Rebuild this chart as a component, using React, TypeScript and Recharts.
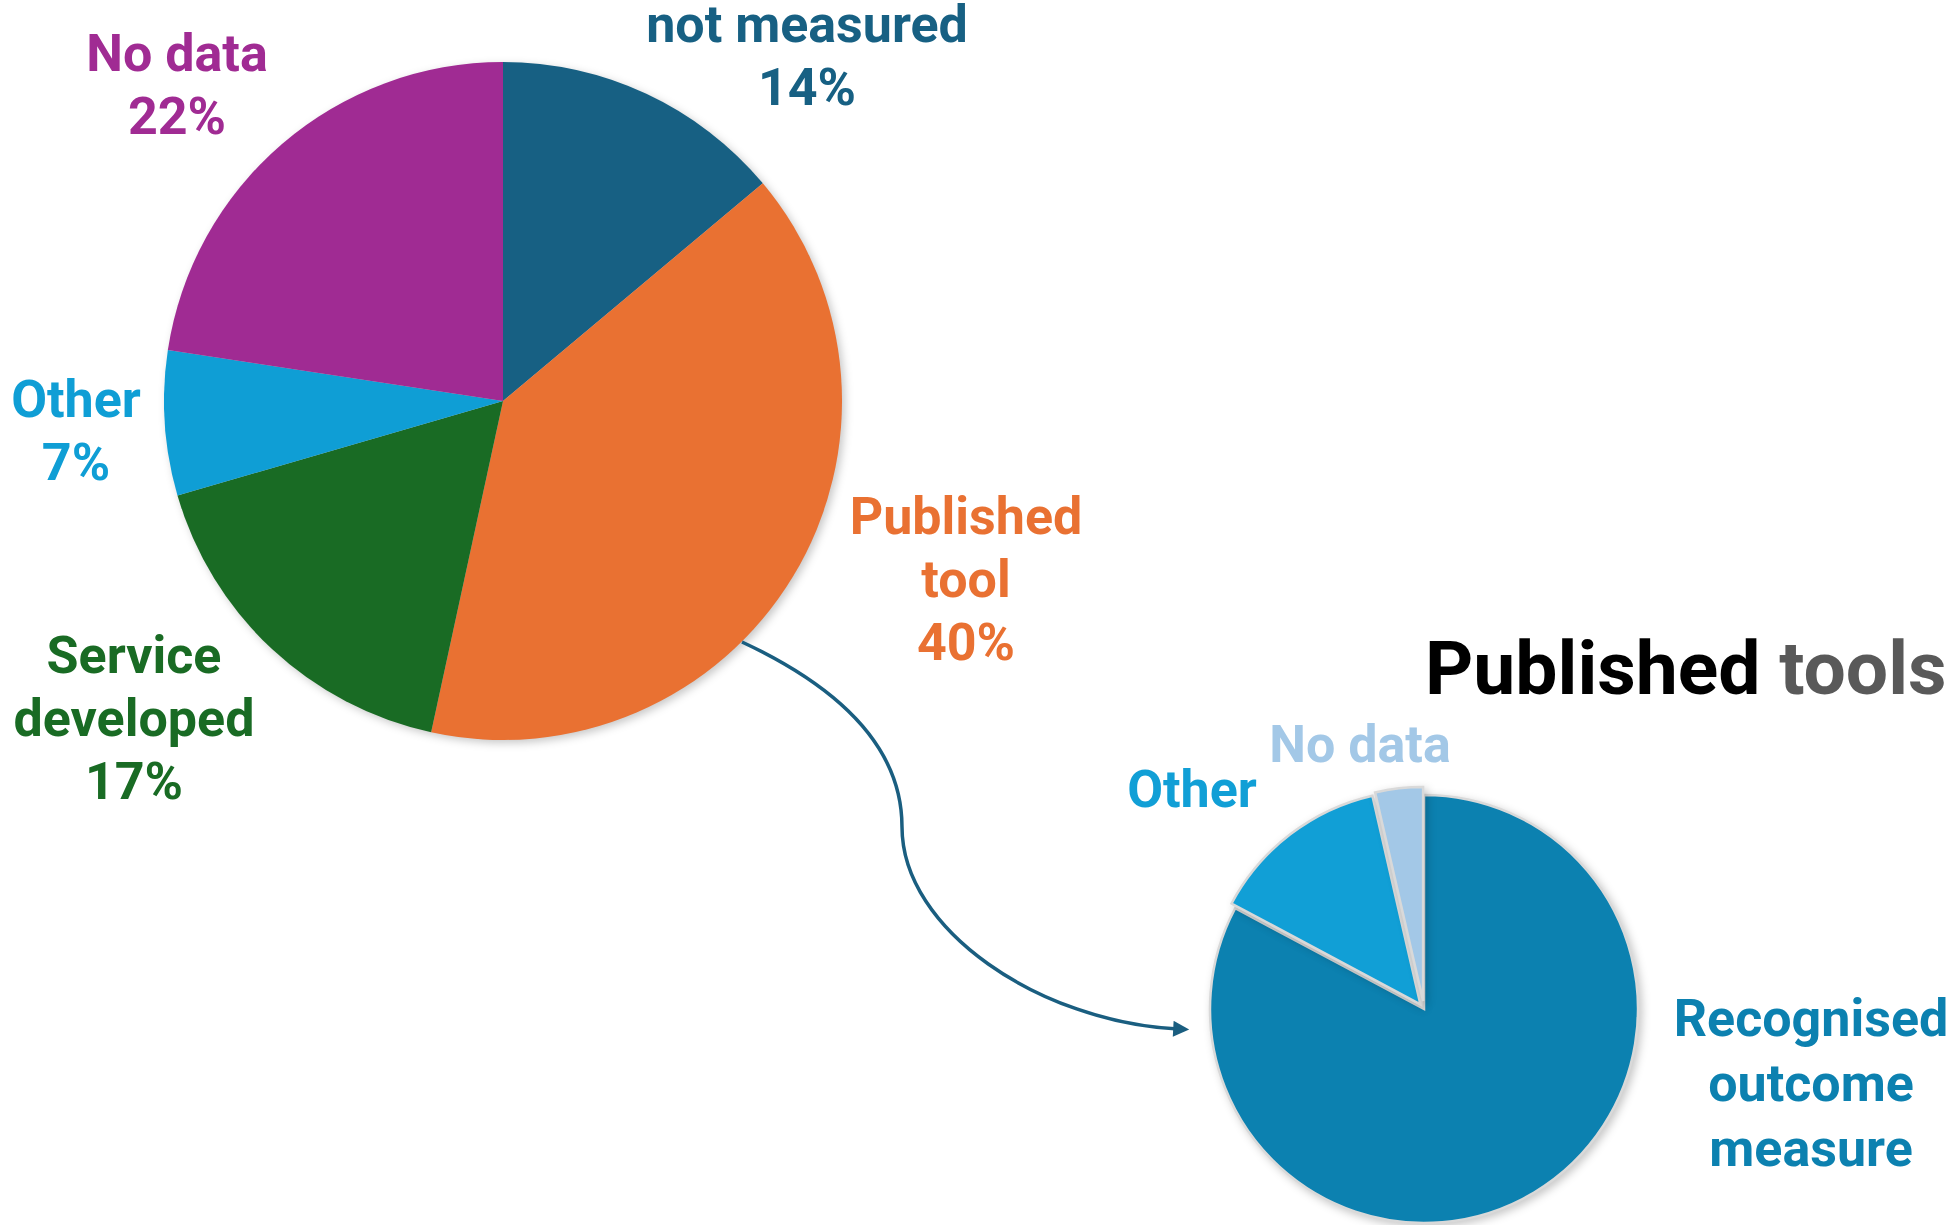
import React from 'react';
import { PieChart, Pie, Cell } from 'recharts';

// ---------- data ----------
const mainCategories = ['not measured', 'Published tool', 'Service developed', 'Other', 'No data'];
const mainValues = [13.9, 39.5, 17.1, 6.9, 22.6];
const mainColors = ['#176083', '#E97132', '#196B24', '#0F9ED5', '#A02B93'];
const mainLabelLines = [['not measured', '14%'], ['Published', 'tool', '40%'], ['Service', 'developed', '17%'], ['Other', '7%'], ['No data', '22%']];

const toolCategories = ['Recognised outcome measure', 'Other', 'No data'];
const toolValues = [82.8, 13.6, 3.6];
const toolColors = ['#0C81B0', '#119FD6', '#A3C8E7'];
const toolLabelLines = [['Recognised', 'outcome', 'measure'], ['Other'], ['No data']];

const titleWords = ['Published', 'tools'];

// ---------- layout ----------
const W = 1959;
const H = 1225;
const FONT = "Roboto, 'Noto Sans', sans-serif";
const LABEL_SIZE = 52;
const LINE_GAP = 63;
const MAIN_CX = 503;
const MAIN_CY = 401;
const MAIN_R = 339;
const TOOL_CX = 1424;
const TOOL_CY = 1009;
const TOOL_R = 214;
const toolExplode = [0, 6, 8];
const mainLabelPos = [
  { x: 807, y: 42 },
  { x: 966, y: 534 },
  { x: 134, y: 673 },
  { x: 76, y: 417 },
  { x: 177, y: 71 },
];
const toolLabelPos = [
  { x: 1811, y: 1036 },
  { x: 1192, y: 807 },
  { x: 1360, y: 762 },
];

const mainData = mainCategories.map((name, i) => ({ name, value: mainValues[i] }));
const toolData = toolCategories.map((name, i) => ({ name, value: toolValues[i] }));
const toolTotal = toolValues.reduce((a, b) => a + b, 0);
const toolOffsets = toolValues.map((v, i) => {
  const before = toolValues.slice(0, i).reduce((a, b) => a + b, 0);
  const a = ((before + v / 2) / toolTotal) * Math.PI * 2;
  return { dx: toolExplode[i] * Math.sin(a), dy: -toolExplode[i] * Math.cos(a) };
});

export default function App() {
  return (
    <div style={{ position: 'absolute', left: 0, top: 0, width: W, height: H, background: '#fff', overflow: 'hidden' }}>
      <style>{`.recharts-pie { filter: drop-shadow(3px 3px 4px rgba(0,0,0,0.22)); }`}</style>
      <PieChart width={W} height={H} margin={{ top: 0, right: 0, bottom: 0, left: 0 }}>
        <Pie
          data={mainData}
          dataKey="value"
          nameKey="name"
          cx={MAIN_CX}
          cy={MAIN_CY}
          outerRadius={MAIN_R}
          startAngle={90}
          endAngle={-270}
          stroke="none"
          isAnimationActive={false}
        >
          {mainData.map((d, i) => (
            <Cell key={d.name} fill={mainColors[i]} />
          ))}
        </Pie>
        {toolCategories.map((cat, k) => (
          <Pie
            key={cat}
            data={toolData}
            dataKey="value"
            nameKey="name"
            cx={TOOL_CX + toolOffsets[k].dx}
            cy={TOOL_CY + toolOffsets[k].dy}
            outerRadius={TOOL_R}
            startAngle={90}
            endAngle={-270}
            isAnimationActive={false}
          >
            {toolData.map((d, i) => (
              <Cell
                key={d.name}
                fill={i === k ? toolColors[i] : 'transparent'}
                stroke={i === k ? '#D9D9D9' : 'none'}
                strokeWidth={2.5}
              />
            ))}
          </Pie>
        ))}
      </PieChart>
      <svg width={W} height={H} style={{ position: 'absolute', left: 0, top: 0, pointerEvents: 'none' }}>
        <defs>
          <marker id="arrowHead" viewBox="0 0 10 10" refX="3" refY="5" markerWidth="17" markerHeight="16" orient="auto" markerUnits="userSpaceOnUse">
            <path d="M0,0 L10,5 L0,10 z" fill="#1A5E80" />
          </marker>
        </defs>
        <path
          d="M742 642 C 845 690, 902 750, 902 827 C 902 930, 1040 1022, 1178 1029"
          fill="none"
          stroke="#1A5E80"
          strokeWidth={3.5}
          markerEnd="url(#arrowHead)"
        />
        {mainLabelLines.map((lines, i) => (
          <text key={mainCategories[i]} x={mainLabelPos[i].x} y={mainLabelPos[i].y} textAnchor="middle" fontFamily={FONT} fontWeight={700} fontSize={LABEL_SIZE} fill={mainColors[i]}>
            {lines.map((l, j) => (
              <tspan key={j} x={mainLabelPos[i].x} dy={j === 0 ? 0 : LINE_GAP}>{l}</tspan>
            ))}
          </text>
        ))}
        {toolLabelLines.map((lines, i) => (
          <text key={toolCategories[i]} x={toolLabelPos[i].x} y={toolLabelPos[i].y} textAnchor="middle" fontFamily={FONT} fontWeight={700} fontSize={LABEL_SIZE} fill={toolColors[i]}>
            {lines.map((l, j) => (
              <tspan key={j} x={toolLabelPos[i].x} dy={j === 0 ? 0 : 65}>{l}</tspan>
            ))}
          </text>
        ))}
        <text x={1425} y={694} fontFamily={FONT} fontWeight={700} fontSize={75}>
          <tspan fill="#000000">{titleWords[0]}</tspan>
          <tspan fill="#595959">{' ' + titleWords[1]}</tspan>
        </text>
      </svg>
    </div>
  );
}
